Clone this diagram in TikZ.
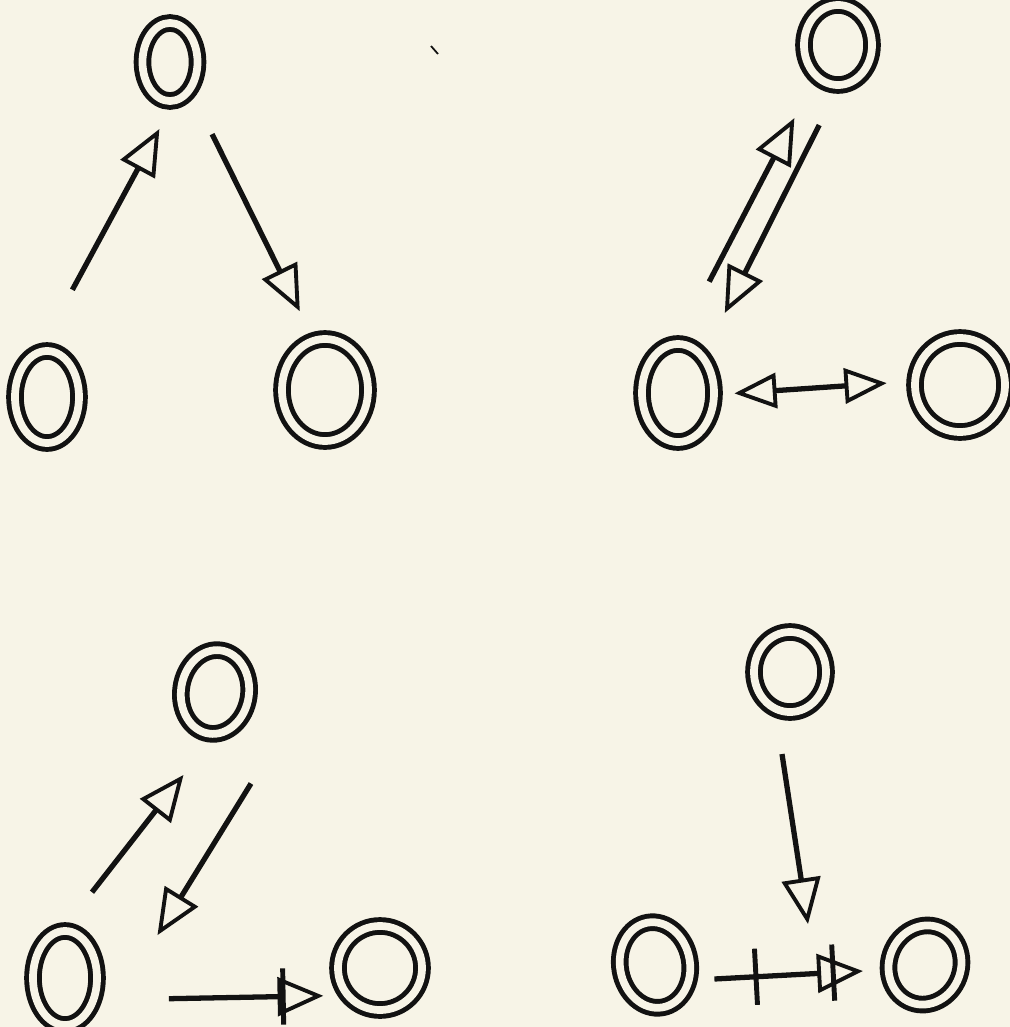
\documentclass[tikz,border=0pt]{standalone}
\usetikzlibrary{arrows.meta, calc, shapes.geometric, decorations.markings}
\definecolor{paper}{HTML}{F7F4E7}
\definecolor{ink}{HTML}{121212}
\tikzset{
  vtx/.style={ellipse, draw=ink, line width=1.4pt, double=paper,
              double distance=2.2pt, inner sep=0pt,
              minimum width=0.62cm, minimum height=0.8cm},
  arr/.style={-{Triangle[open, length=13pt, width=11pt, line width=1.1pt]},
              line width=1.5pt, draw=ink},
  arrboth/.style={{Triangle[open, length=12pt, width=10pt, line width=1.1pt]}-{Triangle[open, length=12pt, width=10pt, line width=1.1pt]},
              line width=1.5pt, draw=ink},
  barat/.style={postaction={decorate, decoration={markings,
                mark=at position #1 with {\draw[-, ink, line width=1.4pt] (0pt,-8pt) -- (0pt,8pt);}}}},
}

\begin{document}
\begin{tikzpicture}[x=0.01cm, y=-0.01cm]
  \fill[paper] (0,0) rectangle (1010,1027);
  \useasboundingbox (0,0) rectangle (1010,1027);

  % first graph — top left
  \node[vtx, minimum width=0.55cm, minimum height=0.78cm] (t1) at (170,62) {};
  \node[vtx, minimum width=0.64cm, minimum height=0.92cm] (b1) at (47,397) {};
  \node[vtx, minimum width=0.86cm, minimum height=1.02cm] (r1) at (325,390) {};

  \draw[arr] ($(b1)!0.32!(t1)+(-14,0)$) -- ($(b1)!0.8!(t1)+(14,0)$);
  \draw[arr] ($(t1)!0.22!(r1)+(8,0)$) -- ($(t1)!0.76!(r1)+(12,0)$);

  % second graph — top right
  \node[vtx, minimum width=0.68cm, minimum height=0.8cm] (t2) at (838,45) {};
  \node[vtx, minimum width=0.72cm, minimum height=0.98cm] (b2) at (678,393) {};
  \node[vtx, minimum width=0.9cm, minimum height=0.94cm] (r2) at (960,385) {};

  \draw[arr] ($(b2)!0.32!(t2)+(-20,0)$) -- ($(b2)!0.79!(t2)+(-10,0)$);
  \draw[arr] ($(t2)!0.23!(b2)+(18,0)$) -- ($(t2)!0.77!(b2)+(10,0)$);
  \draw[arrboth] ($(b2)!0.2!(r2)+(0,2)$) -- ($(b2)!0.74!(r2)+(0,-4)$);

  % third graph — bottom left
  \node[vtx, minimum width=0.68cm, minimum height=0.84cm, rotate=-8] (t3) at (215,692) {};
  \node[vtx, minimum width=0.64cm, minimum height=0.94cm] (b3) at (65,978) {};
  \node[vtx, minimum width=0.84cm, minimum height=0.84cm] (r3) at (380,968) {};

  \draw[arr] ($(b3)!0.3!(t3)+(-18,0)$) -- ($(b3)!0.71!(t3)+(12,0)$);
  \draw[arr] ($(t3)!0.32!(b3)+(84,0)$) -- ($(t3)!0.85!(b3)+(70,0)$);
  \draw[arr, barat=0.74] ($(b3)!0.33!(r3)+(0,24)$) -- ($(b3)!0.82!(r3)+(0,26)$);

  % fourth graph — bottom right
  \node[vtx, minimum width=0.72cm, minimum height=0.8cm] (t4) at (790,672) {};
  \node[vtx, minimum width=0.7cm, minimum height=0.86cm, rotate=10] (b4) at (655,965) {};
  \node[vtx, minimum width=0.72cm, minimum height=0.8cm, rotate=-20] (r4) at (925,965) {};
  \coordinate (m4) at ($(b4)!0.5!(r4)$);

  \draw[arr] ($(t4)!0.28!(m4)+(-8,0)$) -- ($(t4)!0.86!(m4)+(18,0)$);
  \draw[arr, barat=0.28, barat=0.8] ($(b4)!0.22!(r4)+(0,14)$) -- ($(b4)!0.77!(r4)+(0,6)$);

  % stray pen mark
  \draw[ink, line width=0.5pt] (431,46) -- (438,54);
\end{tikzpicture}
\end{document}
